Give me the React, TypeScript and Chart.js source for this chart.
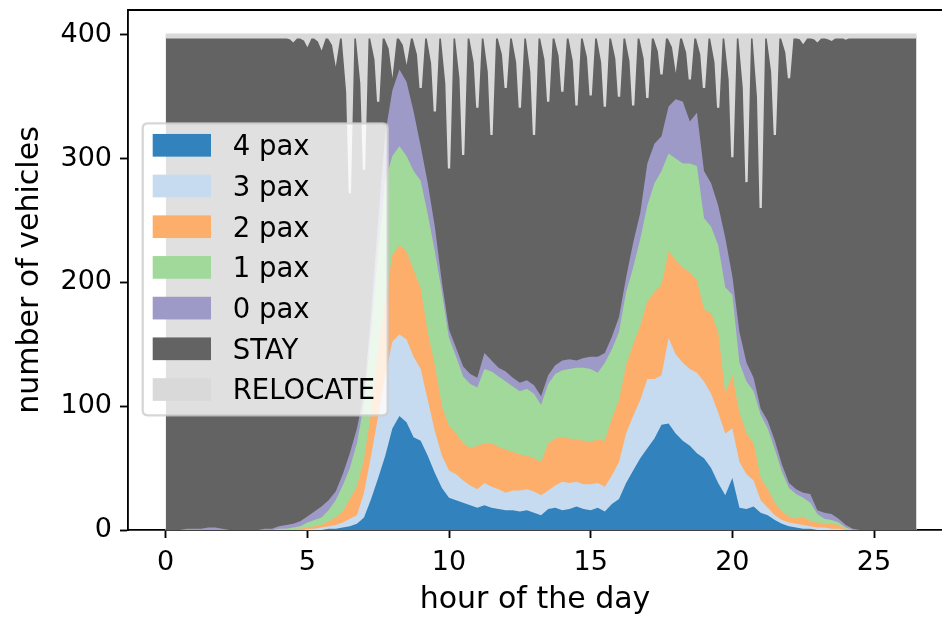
import React, { useEffect, useRef } from 'react';
import { Chart, registerables } from 'chart.js';

Chart.register(...registerables);

const FONT = 'DejaVu Sans';
const FLEET_SIZE = 400;

// hour of the day (sampling grid of the passenger series)
const hours = [
  0, 0.25, 0.5, 0.75, 1, 1.25, 1.5, 1.75, 2, 2.25, 2.5, 2.75, 3, 3.25, 3.5, 3.75,
  4, 4.25, 4.5, 4.75, 5, 5.25, 5.5, 5.75, 6, 6.25, 6.5, 6.75, 7, 7.25, 7.5, 7.75,
  8, 8.25, 8.5, 8.75, 9, 9.25, 9.5, 9.75, 10, 10.25, 10.5, 10.75, 11, 11.25, 11.5, 11.75,
  12, 12.25, 12.5, 12.75, 13, 13.25, 13.5, 13.75, 14, 14.25, 14.5, 14.75, 15, 15.25, 15.5, 15.75,
  16, 16.25, 16.5, 16.75, 17, 17.25, 17.5, 17.75, 18, 18.25, 18.5, 18.75, 19, 19.25, 19.5, 19.75,
  20, 20.25, 20.5, 20.75, 21, 21.25, 21.5, 21.75, 22, 22.25, 22.5, 22.75, 23, 23.25, 23.5, 23.75,
  24, 24.25, 24.5, 24.75, 25, 25.25, 25.5, 25.75, 26, 26.25, 26.5,
];

const pax4 = [
  0, 0, 0, 0, 0, 0, 0, 0, 0, 0, 0, 0, 0, 0, 0, 0,
  0, 0, 0, 0, 0, 0, 0, 1, 1, 2, 3, 5, 10, 25, 42, 60,
  82, 92, 87, 75, 72, 60, 46, 34, 26, 24, 22, 20, 18, 20, 18, 17,
  16, 16, 15, 16, 14, 12, 17, 18, 16, 17, 19, 17, 16, 18, 15, 21,
  25, 38, 48, 58, 66, 74, 85, 86, 78, 72, 68, 62, 58, 50, 38, 28,
  42, 18, 17, 19, 14, 12, 8, 5, 3, 2, 1, 1, 0, 0, 0, 0,
  0, 0, 0, 0, 0, 0, 0, 0, 0, 0, 0,
];

const pax3 = [
  0, 0, 0, 0, 0, 0, 0, 0, 0, 0, 0, 0, 0, 0, 0, 0,
  0, 0, 0, 0, 1, 1, 2, 2, 3, 4, 6, 7, 20, 35, 50, 65,
  70, 66, 67, 65, 58, 45, 34, 26, 22, 21, 18, 16, 15, 18, 17, 16,
  14, 16, 17, 17, 17, 16, 15, 18, 23, 21, 20, 20, 21, 20, 20, 23,
  30, 40, 44, 47, 56, 48, 40, 69, 64, 63, 62, 65, 62, 60, 57, 50,
  40, 37, 28, 21, 10, 6, 4, 3, 3, 3, 3, 2, 2, 2, 1, 1,
  0, 0, 0, 0, 0, 0, 0, 0, 0, 0, 0,
];

const pax2 = [
  0, 0, 0, 0, 0, 0, 0, 0, 0, 0, 0, 0, 0, 0, 0, 0,
  0, 0, 1, 1, 1, 2, 2, 4, 6, 9, 16, 23, 27, 35, 53, 60,
  70, 72, 71, 70, 65, 55, 53, 40, 36, 33, 30, 30, 35, 32, 35, 34,
  35, 31, 29, 27, 27, 27, 38, 38, 36, 36, 34, 35, 34, 35, 37, 46,
  50, 55, 58, 60, 63, 70, 73, 70, 76, 77, 78, 75, 58, 65, 65, 32,
  43, 40, 33, 30, 18, 15, 10, 7, 5, 4, 7, 4, 4, 3, 4, 3,
  1, 0, 0, 0, 0, 0, 0, 0, 0, 0, 0,
];

const pax1 = [
  0, 0, 0, 0, 0, 0, 0, 0, 0, 0, 0, 0, 0, 0, 0, 0,
  1, 1, 1, 2, 4, 5, 6, 9, 14, 21, 25, 35, 45, 65, 80, 97,
  80, 80, 77, 80, 87, 95, 92, 92, 71, 62, 54, 52, 47, 60, 58, 57,
  55, 53, 51, 54, 52, 46, 48, 52, 54, 56, 58, 59, 59, 54, 63, 56,
  55, 59, 62, 70, 77, 88, 92, 79, 82, 84, 88, 92, 74, 70, 70, 86,
  65, 40, 42, 42, 51, 49, 43, 32, 23, 20, 15, 15, 7, 4, 3, 2,
  1, 0, 0, 0, 0, 0, 0, 0, 0, 0, 0,
];

const pax0 = [
  0, 0, 0, 1, 1, 1, 2, 2, 1, 0, 0, 0, 0, 0, 1, 1,
  2, 3, 3, 4, 5, 7, 9, 8, 7, 9, 12, 12, 8, 15, 25, 38,
  53, 62, 60, 48, 28, 25, 20, 8, 7, 7, 8, 8, 8, 13, 9, 7,
  8, 7, 7, 7, 7, 7, 7, 7, 8, 8, 6, 8, 10, 13, 8, 10,
  12, 12, 20, 21, 34, 32, 28, 38, 48, 50, 34, 43, 38, 35, 32, 40,
  15, 25, 15, 11, 5, 6, 7, 6, 4, 4, 4, 7, 3, 5, 5, 3,
  2, 1, 0, 0, 0, 0, 0, 0, 0, 0, 0,
];

// relocating vehicles (own time grid, spikes around every half hour)
const relocHours = [
  0,
  4.25, 4.41, 4.5, 4.62, 4.75, 4.91, 5, 5.12, 5.25, 5.41, 5.5, 5.62, 5.75, 5.91, 6, 6.12,
  6.25, 6.41, 6.5, 6.62, 6.75, 6.91, 7, 7.12, 7.25, 7.41, 7.5, 7.62, 7.75, 7.91, 8, 8.12,
  8.25, 8.41, 8.5, 8.62, 8.75, 8.91, 9, 9.12, 9.25, 9.41, 9.5, 9.62, 9.75, 9.91, 10, 10.12,
  10.25, 10.41, 10.5, 10.62, 10.75, 10.91, 11, 11.12, 11.25, 11.41, 11.5, 11.62, 11.75, 11.91, 12, 12.12,
  12.25, 12.41, 12.5, 12.62, 12.75, 12.91, 13, 13.12, 13.25, 13.41, 13.5, 13.62, 13.75, 13.91, 14, 14.12,
  14.25, 14.41, 14.5, 14.62, 14.75, 14.91, 15, 15.12, 15.25, 15.41, 15.5, 15.62, 15.75, 15.91, 16, 16.12,
  16.25, 16.41, 16.5, 16.62, 16.75, 16.91, 17, 17.12, 17.25, 17.41, 17.5, 17.62, 17.75, 17.91, 18, 18.12,
  18.25, 18.41, 18.5, 18.62, 18.75, 18.91, 19, 19.12, 19.25, 19.41, 19.5, 19.62, 19.75, 19.91, 20, 20.12,
  20.25, 20.41, 20.5, 20.62, 20.75, 20.91, 21, 21.12, 21.25, 21.41, 21.5, 21.62, 21.75, 21.91, 22, 22.12,
  22.25, 22.41, 22.5, 22.62, 22.75, 22.91, 23, 23.12, 23.25, 23.41, 23.5, 23.62, 23.75, 23.91, 24, 24.12,
  26.5,
];

const relocCounts = [
  2,
  2, 3, 5, 2, 2, 4, 8, 2, 2, 5, 10, 2, 2, 8, 20, 2,
  2, 46, 128, 2, 2, 39, 109, 2, 2, 20, 54, 2, 2, 11, 27, 2,
  2, 8, 19, 2, 2, 16, 43, 2, 2, 23, 62, 2, 2, 39, 108, 2,
  2, 35, 97, 2, 2, 22, 59, 2, 2, 30, 81, 2, 2, 16, 43, 2,
  2, 22, 59, 2, 2, 30, 81, 2, 2, 20, 54, 2, 2, 17, 46, 2,
  2, 21, 57, 2, 2, 18, 49, 2, 2, 22, 58, 2, 2, 19, 50, 2,
  2, 21, 57, 2, 2, 19, 51, 2, 2, 13, 32, 2, 2, 10, 24, 2,
  2, 14, 36, 2, 2, 16, 43, 2, 2, 22, 59, 2, 2, 36, 99, 2,
  2, 43, 119, 2, 2, 50, 140, 2, 2, 30, 81, 2, 2, 14, 35, 2,
  2, 3, 6, 2, 2, 3, 5, 2, 2, 3, 4, 2, 2, 2, 3, 2,
  2,
];

const seriesLabels = ['4 pax', '3 pax', '2 pax', '1 pax', '0 pax', 'STAY', 'RELOCATE'];
const seriesColors = ['#3182bd', '#c6dbef', '#fdae6b', '#a1d99b', '#9e9ac8', '#636363', '#d9d9d9'];
const xTicks = [0, 5, 10, 15, 20, 25];
const yTicks = [0, 100, 200, 300, 400];

const EDGE = 2.3;

function buildDatasets() {
  const paxSeries = [pax4, pax3, pax2, pax1, pax0];
  const paxSets = paxSeries.map((_, k) => {
    const data = hours.map((h, i) => {
      let s = 0;
      for (let j = 0; j <= k; j++) s += paxSeries[j][i];
      return { x: h, y: s };
    });
    return {
      label: seriesLabels[k],
      data,
      backgroundColor: seriesColors[k],
      borderColor: seriesColors[k],
      borderWidth: EDGE,
      fill: k === 0 ? 'origin' : '-1',
      order: 7 - k,
      pointRadius: 0,
      tension: 0,
    };
  });
  const stay = {
    label: seriesLabels[5],
    data: relocHours.map((h, i) => ({ x: h, y: FLEET_SIZE - relocCounts[i] })),
    backgroundColor: seriesColors[5],
    borderColor: seriesColors[6],
    borderWidth: EDGE,
    fill: '-1',
    order: 2,
    pointRadius: 0,
    tension: 0,
  };
  const reloc = {
    label: seriesLabels[6],
    data: [
      { x: relocHours[0], y: FLEET_SIZE },
      { x: relocHours[relocHours.length - 1], y: FLEET_SIZE },
    ],
    backgroundColor: seriesColors[6],
    borderColor: seriesColors[6],
    borderWidth: EDGE,
    fill: '-1',
    order: 1,
    pointRadius: 0,
    tension: 0,
  };
  return [...paxSets, stay, reloc];
}

const legendPlugin = {
  id: 'mplLegend',
  afterDatasetsDraw(chart: any) {
    const ctx = chart.ctx as CanvasRenderingContext2D;
    ctx.save();
    const x0 = 142.7, y0 = 123.3, w = 245, h = 292, r = 5;
    ctx.beginPath();
    ctx.moveTo(x0 + r, y0);
    ctx.lineTo(x0 + w - r, y0);
    ctx.quadraticCurveTo(x0 + w, y0, x0 + w, y0 + r);
    ctx.lineTo(x0 + w, y0 + h - r);
    ctx.quadraticCurveTo(x0 + w, y0 + h, x0 + w - r, y0 + h);
    ctx.lineTo(x0 + r, y0 + h);
    ctx.quadraticCurveTo(x0, y0 + h, x0, y0 + h - r);
    ctx.lineTo(x0, y0 + r);
    ctx.quadraticCurveTo(x0, y0, x0 + r, y0);
    ctx.closePath();
    ctx.fillStyle = 'rgba(255,255,255,0.8)';
    ctx.fill();
    ctx.strokeStyle = 'rgba(204,204,204,0.8)';
    ctx.lineWidth = EDGE;
    ctx.stroke();
    const sets = chart.data.datasets;
    ctx.font = `27.5px "${FONT}"`;
    ctx.textBaseline = 'alphabetic';
    ctx.textAlign = 'left';
    sets.forEach((ds: any, i: number) => {
      const cy = 145.3 + i * 40.7;
      ctx.fillStyle = ds.backgroundColor;
      ctx.fillRect(152.7, cy - 11.35, 58.3, 22.7);
      ctx.fillStyle = '#000';
      ctx.fillText(ds.label, 232.7, cy + 9.9);
    });
    ctx.restore();
  },
};

const topSpinePlugin = {
  id: 'topSpine',
  afterDraw(chart: any) {
    const { ctx, chartArea } = chart;
    ctx.save();
    ctx.strokeStyle = '#000';
    ctx.lineWidth = 1.85;
    ctx.beginPath();
    ctx.moveTo(chartArea.left - 0.9, chartArea.top);
    ctx.lineTo(chartArea.right + 2, chartArea.top);
    ctx.stroke();
    ctx.restore();
  },
};

export default function App() {
  const ref = useRef<HTMLCanvasElement>(null);
  useEffect(() => {
    const canvas = ref.current;
    if (!canvas) return;
    const tickFont = { family: FONT, size: 27 };
    const titleFont = { family: FONT, size: 30 };
    const chart = new Chart(canvas, {
      type: 'line',
      data: { datasets: buildDatasets() as any },
      options: {
        responsive: false,
        devicePixelRatio: 1,
        animation: false,
        events: [],
        layout: { padding: { top: 10, right: 0, bottom: 0, left: 0 } },
        plugins: { legend: { display: false }, tooltip: { enabled: false } },
        elements: { point: { radius: 0 }, line: { tension: 0 } },
        scales: {
          x: {
            type: 'linear',
            min: -1.33,
            max: 27.4,
            z: 1,
            afterBuildTicks: (axis: any) => {
              axis.ticks = xTicks.map((v) => ({ value: v }));
            },
            afterFit: (s: any) => {
              s.height = 91;
              s.paddingLeft = 0;
              s.paddingRight = 0;
              s.paddingTop = 0;
              s.paddingBottom = 0;
            },
            ticks: { font: tickFont, color: '#000', padding: 9, maxRotation: 0, autoSkip: false },
            grid: { drawOnChartArea: false, drawTicks: true, tickLength: 8, tickWidth: 1.85, tickColor: '#000' },
            border: { display: true, color: '#000', width: 1.85 },
            title: { display: true, text: 'hour of the day', font: titleFont, color: '#000', padding: { top: 0, bottom: 3 } },
          },
          y: {
            type: 'linear',
            min: 0,
            max: 420,
            z: 1,
            afterBuildTicks: (axis: any) => {
              axis.ticks = yTicks.map((v) => ({ value: v }));
            },
            afterFit: (s: any) => {
              s.width = 128;
              s.paddingLeft = 0;
              s.paddingRight = 0;
              s.paddingTop = 0;
              s.paddingBottom = 0;
            },
            ticks: { font: tickFont, color: '#000', padding: 8, autoSkip: false },
            grid: { drawOnChartArea: false, drawTicks: true, tickLength: 8, tickWidth: 1.85, tickColor: '#000' },
            border: { display: true, color: '#000', width: 1.85 },
            title: { display: true, text: 'number of vehicles', font: titleFont, color: '#000', padding: { top: 12, bottom: 0 } },
          },
        },
      } as any,
      plugins: [legendPlugin, topSpinePlugin],
    });
    return () => chart.destroy();
  }, []);
  return (
    <div style={{ position: 'absolute', left: 0, top: 0, width: 942, height: 621, background: '#fff' }}>
      <canvas ref={ref} width={942} height={621} style={{ display: 'block', width: 942, height: 621 }} />
    </div>
  );
}
